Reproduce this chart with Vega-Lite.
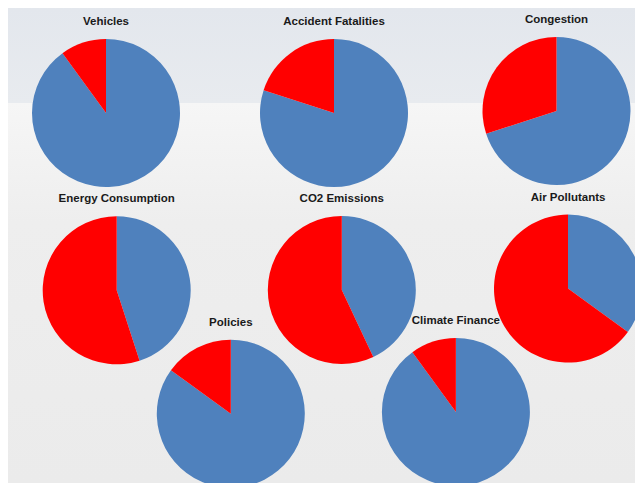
{
  "$schema": "https://vega.github.io/schema/vega-lite/v6.json",
  "width": 627,
  "height": 475,
  "autosize": {"type": "none"},
  "padding": {"left": 8, "top": 8, "right": 0, "bottom": 0},
  "background": "#ffffff",
  "config": {
    "view": {
      "stroke": null,
      "fill": {
        "gradient": "linear",
        "x1": 0, "y1": 0, "x2": 0, "y2": 1,
        "stops": [
          {"offset": 0, "color": "#e3e7ed"},
          {"offset": 0.2, "color": "#e8ebef"},
          {"offset": 0.2, "color": "#f6f6f6"},
          {"offset": 0.45, "color": "#eeeeee"},
          {"offset": 1, "color": "#ebebeb"}
        ]
      }
    }
  },
  "data": {
    "values": [
      {"chart": "Vehicles", "cx": 98, "cy": 105, "part": "rest", "order": 1, "value": 90},
      {"chart": "Vehicles", "cx": 98, "cy": 105, "part": "share", "order": 2, "value": 10},
      {"chart": "Accident Fatalities", "cx": 326, "cy": 105, "part": "rest", "order": 1, "value": 80},
      {"chart": "Accident Fatalities", "cx": 326, "cy": 105, "part": "share", "order": 2, "value": 20},
      {"chart": "Congestion", "cx": 548.5, "cy": 103, "part": "rest", "order": 1, "value": 70},
      {"chart": "Congestion", "cx": 548.5, "cy": 103, "part": "share", "order": 2, "value": 30},
      {"chart": "Energy Consumption", "cx": 108.7, "cy": 282.3, "part": "rest", "order": 1, "value": 45},
      {"chart": "Energy Consumption", "cx": 108.7, "cy": 282.3, "part": "share", "order": 2, "value": 55},
      {"chart": "CO2 Emissions", "cx": 333.8, "cy": 282, "part": "rest", "order": 1, "value": 43},
      {"chart": "CO2 Emissions", "cx": 333.8, "cy": 282, "part": "share", "order": 2, "value": 57},
      {"chart": "Air Pollutants", "cx": 560, "cy": 280.6, "part": "rest", "order": 1, "value": 35},
      {"chart": "Air Pollutants", "cx": 560, "cy": 280.6, "part": "share", "order": 2, "value": 65},
      {"chart": "Policies", "cx": 222.8, "cy": 405.7, "part": "rest", "order": 1, "value": 85},
      {"chart": "Policies", "cx": 222.8, "cy": 405.7, "part": "share", "order": 2, "value": 15},
      {"chart": "Climate Finance", "cx": 447.9, "cy": 404, "part": "rest", "order": 1, "value": 90},
      {"chart": "Climate Finance", "cx": 447.9, "cy": 404, "part": "share", "order": 2, "value": 10}
    ]
  },
  "encoding": {
    "x": {"field": "cx", "type": "quantitative", "scale": {"domain": [0, 627], "nice": false, "zero": false}, "axis": null},
    "y": {"field": "cy", "type": "quantitative", "scale": {"domain": [0, 475], "nice": false, "zero": false, "reverse": true}, "axis": null}
  },
  "layer": [
    {
      "transform": [
        {"stack": "value", "groupby": ["chart"], "sort": [{"field": "order", "order": "ascending"}], "offset": "normalize", "as": ["t0", "t1"]}
      ],
      "mark": {"type": "arc", "radius": 74},
      "encoding": {
        "theta": {"field": "t0", "type": "quantitative", "stack": null, "scale": {"domain": [0, 1], "range": [0, 6.283185307179586]}},
        "theta2": {"field": "t1"},
        "color": {"field": "part", "type": "nominal", "scale": {"domain": ["rest", "share"], "range": ["#4f81bd", "#ff0000"]}, "legend": null}
      }
    },
    {
      "transform": [{"filter": "datum.part === 'share'"}],
      "mark": {"type": "text", "dy": -88, "baseline": "alphabetic", "align": "center", "font": "Liberation Sans", "fontWeight": "bold", "fontSize": 11.5, "color": "#1a1a1a"},
      "encoding": {
        "text": {"field": "chart"}
      }
    }
  ]
}
